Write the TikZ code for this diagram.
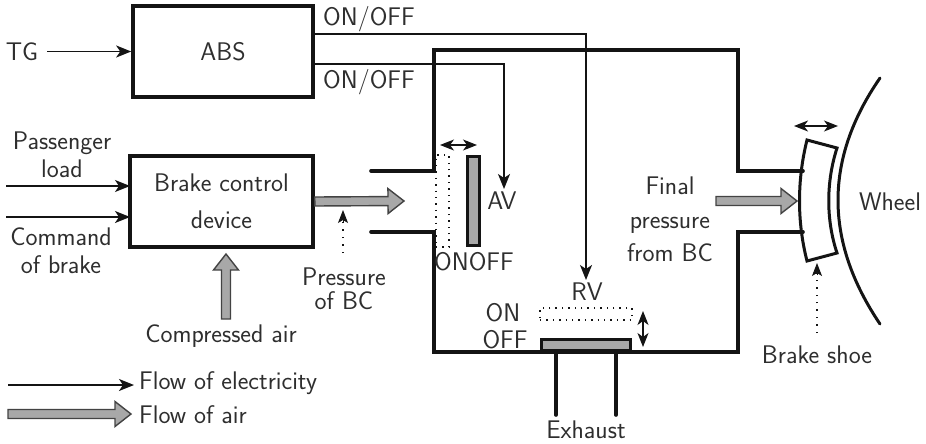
\documentclass[tikz,border=0pt]{standalone}
\usetikzlibrary{arrows.meta,calc}
\definecolor{ink}{gray}{0.08}
\definecolor{txt}{gray}{0.18}
\definecolor{airgray}{gray}{0.66}
\tikzset{
  lbl/.style={inner sep=0pt,text=txt,font=\sffamily\fontsize{25.5}{23}\selectfont,align=center},
  heavy/.style={draw=ink,line width=3.6pt,line cap=round,line join=miter},
  sbox/.style={draw=ink,line width=3.6pt,fill=none,inner sep=0pt,text=txt,font=\sffamily\fontsize{25.5}{23}\selectfont,align=center},
  plate/.style={draw=ink,line width=3.6pt,fill=airgray,inner sep=0pt},
  ghost/.style={draw=ink,line width=1.2pt,dash pattern=on 1.4pt off 5pt,inner sep=0pt},
  elec/.style={draw=ink,line width=1.7pt,-{Stealth[length=15pt,width=12pt,inset=4pt]}},
  both/.style={draw=ink,line width=1.2pt,{Stealth[length=14pt,width=11pt,inset=4pt]}-{Stealth[length=14pt,width=11pt,inset=4pt]}},
  note/.style={draw=ink,line width=1.2pt,dash pattern=on 1.4pt off 6pt},
  notehead/.style={-{Stealth[length=13pt,width=10pt,inset=3pt]}},
  airline/.style={draw=ink!80,line width=1.4pt,fill=airgray,line join=miter},
}
\newcommand{\airflow}[2]{%
  \coordinate (hb) at ($(#2)!16pt!(#1)$);
  \draw[airline] ($(#1)!4.5pt!90:(#2)$) -- ($(hb)!4.5pt!90:(#2)$) -- ($(hb)!12.5pt!90:(#2)$) -- (#2)
    -- ($(hb)!12.5pt!-90:(#2)$) -- ($(hb)!4.5pt!-90:(#2)$) -- ($(#1)!4.5pt!-90:(#2)$) -- cycle;}
\begin{document}
\begin{tikzpicture}[x=1pt,y=-1pt]
\useasboundingbox (0,0) rectangle (926,444);
% boxes
\node[sbox,minimum width=180pt,minimum height=91pt] (abs) at (223,51.5) {ABS};
\node[sbox,minimum width=183pt,minimum height=91pt] (bcd) at (221.5,201.5) {Brake control\\[14pt]device};
% chamber
\coordinate (c1) at (371,171); \coordinate (c2) at (434,171); \coordinate (c3) at (434,50);
\coordinate (c4) at (738,50); \coordinate (c5) at (738,171); \coordinate (c6) at (803,171);
\coordinate (c7) at (371,232); \coordinate (c8) at (434,232); \coordinate (c9) at (434,352);
\coordinate (c10) at (738,352); \coordinate (c11) at (738,232); \coordinate (c12) at (803,232);
\draw[heavy] (c1) -- (c2) -- (c3) -- (c4) -- (c5) -- (c6);
\draw[heavy] (c7) -- (c8) -- (c9) -- (c10) -- (c11) -- (c12);
% AV valve
\node[ghost,minimum width=13pt,minimum height=92pt] (avopen) at (442.5,201) {};
\node[plate,minimum width=12pt,minimum height=89pt] (av) at (473.5,201) {};
\node[lbl] (avt) at (502,201) {AV};
\node[lbl] (onoff) at (474,262) {ONOFF};
\coordinate (avl) at (440,145); \coordinate (avr) at (477,145);
\draw[both] (avl) -- (avr);
% RV valve
\node[ghost,minimum width=92pt,minimum height=12pt] (rvopen) at (586,314) {};
\node[plate,minimum width=89pt,minimum height=11pt] (rv) at (586,345) {};
\node[lbl] (rvt) at (587,292) {RV};
\node[lbl] (ont) at (503,313) {ON};
\node[lbl] (offt) at (505,340) {OFF};
\coordinate (rvu) at (643,311); \coordinate (rvd) at (643,347);
\draw[both] (rvu) -- (rvd);
% exhaust
\coordinate (e1) at (556,352); \coordinate (e2) at (556,415);
\coordinate (e3) at (616,352); \coordinate (e4) at (616,415);
\draw[heavy] (e1) -- (e2); \draw[heavy] (e3) -- (e4);
\node[lbl] (ext) at (586,430) {Exhaust};
% electric
\node[lbl] (tg) at (22,52) {TG};
\coordinate (tg0) at (47,51.5);
\draw[elec] (tg0) -- (abs.west);
\node[lbl] (o1) at (369,19) {ON/OFF};
\node[lbl] (o2) at (369,82) {ON/OFF};
\coordinate (a1) at (313,34); \coordinate (a2) at (586,34); \coordinate (a3) at (586,280);
\coordinate (b1) at (313,64); \coordinate (b2) at (504,64); \coordinate (b3) at (504,189);
\draw[elec] (a1) -- (a2) -- (a3);
\draw[elec] (b1) -- (b2) -- (b3);
\node[lbl] (pl) at (62,155) {Passenger\\[5pt]load};
\node[lbl] (cb) at (61,251) {Command\\[5pt]of brake};
\coordinate (p0) at (6,186); \coordinate (p1) at (130,186);
\coordinate (q0) at (6,217); \coordinate (q1) at (130,217);
\draw[elec] (p0) -- (p1);
\draw[elec] (q0) -- (q1);
% air
\coordinate (f1) at (404,201);
\airflow{bcd.east}{f1}
\coordinate (g0) at (716,201); \coordinate (g1) at (797,201);
\airflow{g0}{g1}
\node[lbl] (ca) at (221,336) {Compressed air};
\coordinate (h0) at (226,319); \coordinate (h1) at (226,254);
\airflow{h0}{h1}
\node[lbl] (fb) at (670,219.5) {Final\\[10.5pt]pressure\\[10.5pt]from BC};
% notes
\node[lbl] (pb) at (344,288.5) {Pressure\\[1pt]of BC};
\coordinate (n1) at (343,253); \coordinate (n2) at (343,210);
\draw[note] (n1) -- ($(n2)+(0,10)$);
\draw[ink,line width=1pt,notehead] ($(n2)+(0,12)$) -- (n2);
\coordinate (s1) at (817,333); \coordinate (s2) at (817,263);
\draw[note] (s1) -- ($(s2)+(0,10)$);
\draw[ink,line width=1pt,notehead] ($(s2)+(0,12)$) -- (s2);
\node[lbl] (bs) at (817,355) {Brake shoe};
% shoe and wheel
\draw[ink,line width=3pt,line join=miter] (807,140) -- (837,148)
  .. controls (826,182) and (826,220) .. (837,253) -- (807,261)
  .. controls (797,222) and (797,180) .. cycle;
\coordinate (w0) at (880,78); \coordinate (w1) at (880,324);
\draw[ink,line width=3pt,line cap=round] (w0) .. controls (824,159) and (824,241) .. (w1);
\node[lbl] (wh) at (890,202) {Wheel};
\coordinate (t0) at (794,126); \coordinate (t1) at (838,126);
\draw[both] (t0) -- (t1);
% legend
\coordinate (l0) at (8,385); \coordinate (l1) at (134,385);
\draw[elec] (l0) -- (l1);
\node[lbl,anchor=west] (lt1) at (139,383) {Flow of electricity};
\coordinate (m0) at (8,414); \coordinate (m1) at (131,414);
\airflow{m0}{m1}
\node[lbl,anchor=west] (lt2) at (139,415) {Flow of air};
\end{tikzpicture}
\end{document}
